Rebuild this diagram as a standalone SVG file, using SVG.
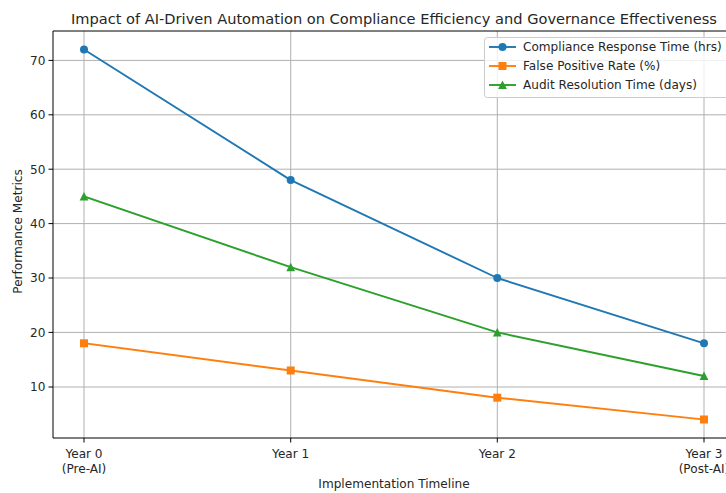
<svg xmlns="http://www.w3.org/2000/svg" width="726" height="493" viewBox="0 0 726 493">
<style>
text{font-family:"DejaVu Sans",sans-serif;fill:#262626;font-size:12.1px}
.grid line{stroke:#b0b0b0;stroke-width:1}
.tick line{stroke:#000;stroke-width:1}
.yl{text-anchor:end}
.xl{text-anchor:middle}
.s{fill:none;stroke-width:1.9;stroke-linejoin:round;stroke-linecap:square}
</style>
<defs>
<circle id="mc" r="4" fill="#1f77b4"/>
<rect id="ms" x="-4" y="-4" width="8" height="8" fill="#ff7f0e"/>
<path id="mt" d="M0,-4.4 L4.4,4 L-4.4,4 Z" fill="#2ca02c"/>
</defs>
<rect width="726" height="493" fill="#fff"/>
<g id="grid" class="grid">
<line x1="84" y1="31" x2="84" y2="438"/>
<line x1="290.7" y1="31" x2="290.7" y2="438"/>
<line x1="497.3" y1="31" x2="497.3" y2="438"/>
<line x1="704" y1="31" x2="704" y2="438"/>
<line x1="53" y1="387" x2="735" y2="387"/>
<line x1="53" y1="332.4" x2="735" y2="332.4"/>
<line x1="53" y1="278" x2="735" y2="278"/>
<line x1="53" y1="223.6" x2="735" y2="223.6"/>
<line x1="53" y1="169.2" x2="735" y2="169.2"/>
<line x1="53" y1="114.8" x2="735" y2="114.8"/>
<line x1="53" y1="60.4" x2="735" y2="60.4"/>
</g>
<g id="connectors">
<polyline class="s" stroke="#1f77b4" points="84,49.5 290.7,180.1 497.3,278 704,343.3"/>
<polyline class="s" stroke="#ff7f0e" points="84,343.3 290.7,370.5 497.3,397.7 704,419.5"/>
<polyline class="s" stroke="#2ca02c" points="84,196.4 290.7,267.2 497.3,332.4 704,376"/>
</g>
<g id="markers">
<use href="#mc" x="84" y="49.5"/><use href="#mc" x="290.7" y="180.1"/><use href="#mc" x="497.3" y="278"/><use href="#mc" x="704" y="343.3"/>
<use href="#ms" x="84" y="343.3"/><use href="#ms" x="290.7" y="370.5"/><use href="#ms" x="497.3" y="397.7"/><use href="#ms" x="704" y="419.5"/>
<use href="#mt" x="84" y="196.4"/><use href="#mt" x="290.7" y="267.2"/><use href="#mt" x="497.3" y="332.4"/><use href="#mt" x="704" y="376"/>
</g>
<g id="axes" fill="none" stroke="#000" stroke-width="1">
<path d="M53,438 L53,31 L735,31 M53,438 L735,438"/>
</g>
<g id="ticks" class="tick">
<line x1="48.5" y1="387" x2="53" y2="387"/>
<line x1="48.5" y1="332.4" x2="53" y2="332.4"/>
<line x1="48.5" y1="278" x2="53" y2="278"/>
<line x1="48.5" y1="223.6" x2="53" y2="223.6"/>
<line x1="48.5" y1="169.2" x2="53" y2="169.2"/>
<line x1="48.5" y1="114.8" x2="53" y2="114.8"/>
<line x1="48.5" y1="60.4" x2="53" y2="60.4"/>
<line x1="84" y1="438" x2="84" y2="442.5"/>
<line x1="290.7" y1="438" x2="290.7" y2="442.5"/>
<line x1="497.3" y1="438" x2="497.3" y2="442.5"/>
<line x1="704" y1="438" x2="704" y2="442.5"/>
</g>
<g id="yticklabels" class="yl">
<text x="45.5" y="391.3">10</text>
<text x="45.5" y="336.7">20</text>
<text x="45.5" y="282.3">30</text>
<text x="45.5" y="227.9">40</text>
<text x="45.5" y="173.5">50</text>
<text x="45.5" y="119.1">60</text>
<text x="45.5" y="64.7">70</text>
</g>
<g id="xticklabels" class="xl">
<text x="84" y="457.5">Year 0</text><text x="84" y="472.5">(Pre-AI)</text>
<text x="290.7" y="457.5">Year 1</text>
<text x="497.3" y="457.5">Year 2</text>
<text x="704" y="457.5">Year 3</text><text x="704" y="472.5">(Post-AI)</text>
</g>
<text id="xlabel" class="xl" x="394" y="487.5">Implementation Timeline</text>
<text id="ylabel" class="xl" transform="translate(21.5,231.5) rotate(-90)">Performance Metrics</text>
<text id="title" class="xl" x="394" y="24" style="font-size:14.6px">Impact of AI-Driven Automation on Compliance Efficiency and Governance Effectiveness</text>
<g id="legend">
<rect x="484.5" y="37.5" width="250" height="60" rx="2.8" fill="#fff" fill-opacity="0.8" stroke="#cccccc" stroke-width="1"/>
<line x1="489" y1="47" x2="516" y2="47" stroke="#1f77b4" stroke-width="1.9"/><use href="#mc" x="502.5" y="47"/>
<text x="523" y="51.3">Compliance Response Time (hrs)</text>
<line x1="489" y1="66" x2="516" y2="66" stroke="#ff7f0e" stroke-width="1.9"/><use href="#ms" x="502.5" y="66"/>
<text x="523" y="70.3">False Positive Rate (%)</text>
<line x1="489" y1="85" x2="516" y2="85" stroke="#2ca02c" stroke-width="1.9"/><use href="#mt" x="502.5" y="85"/>
<text x="523" y="89.3">Audit Resolution Time (days)</text>
</g>
</svg>
